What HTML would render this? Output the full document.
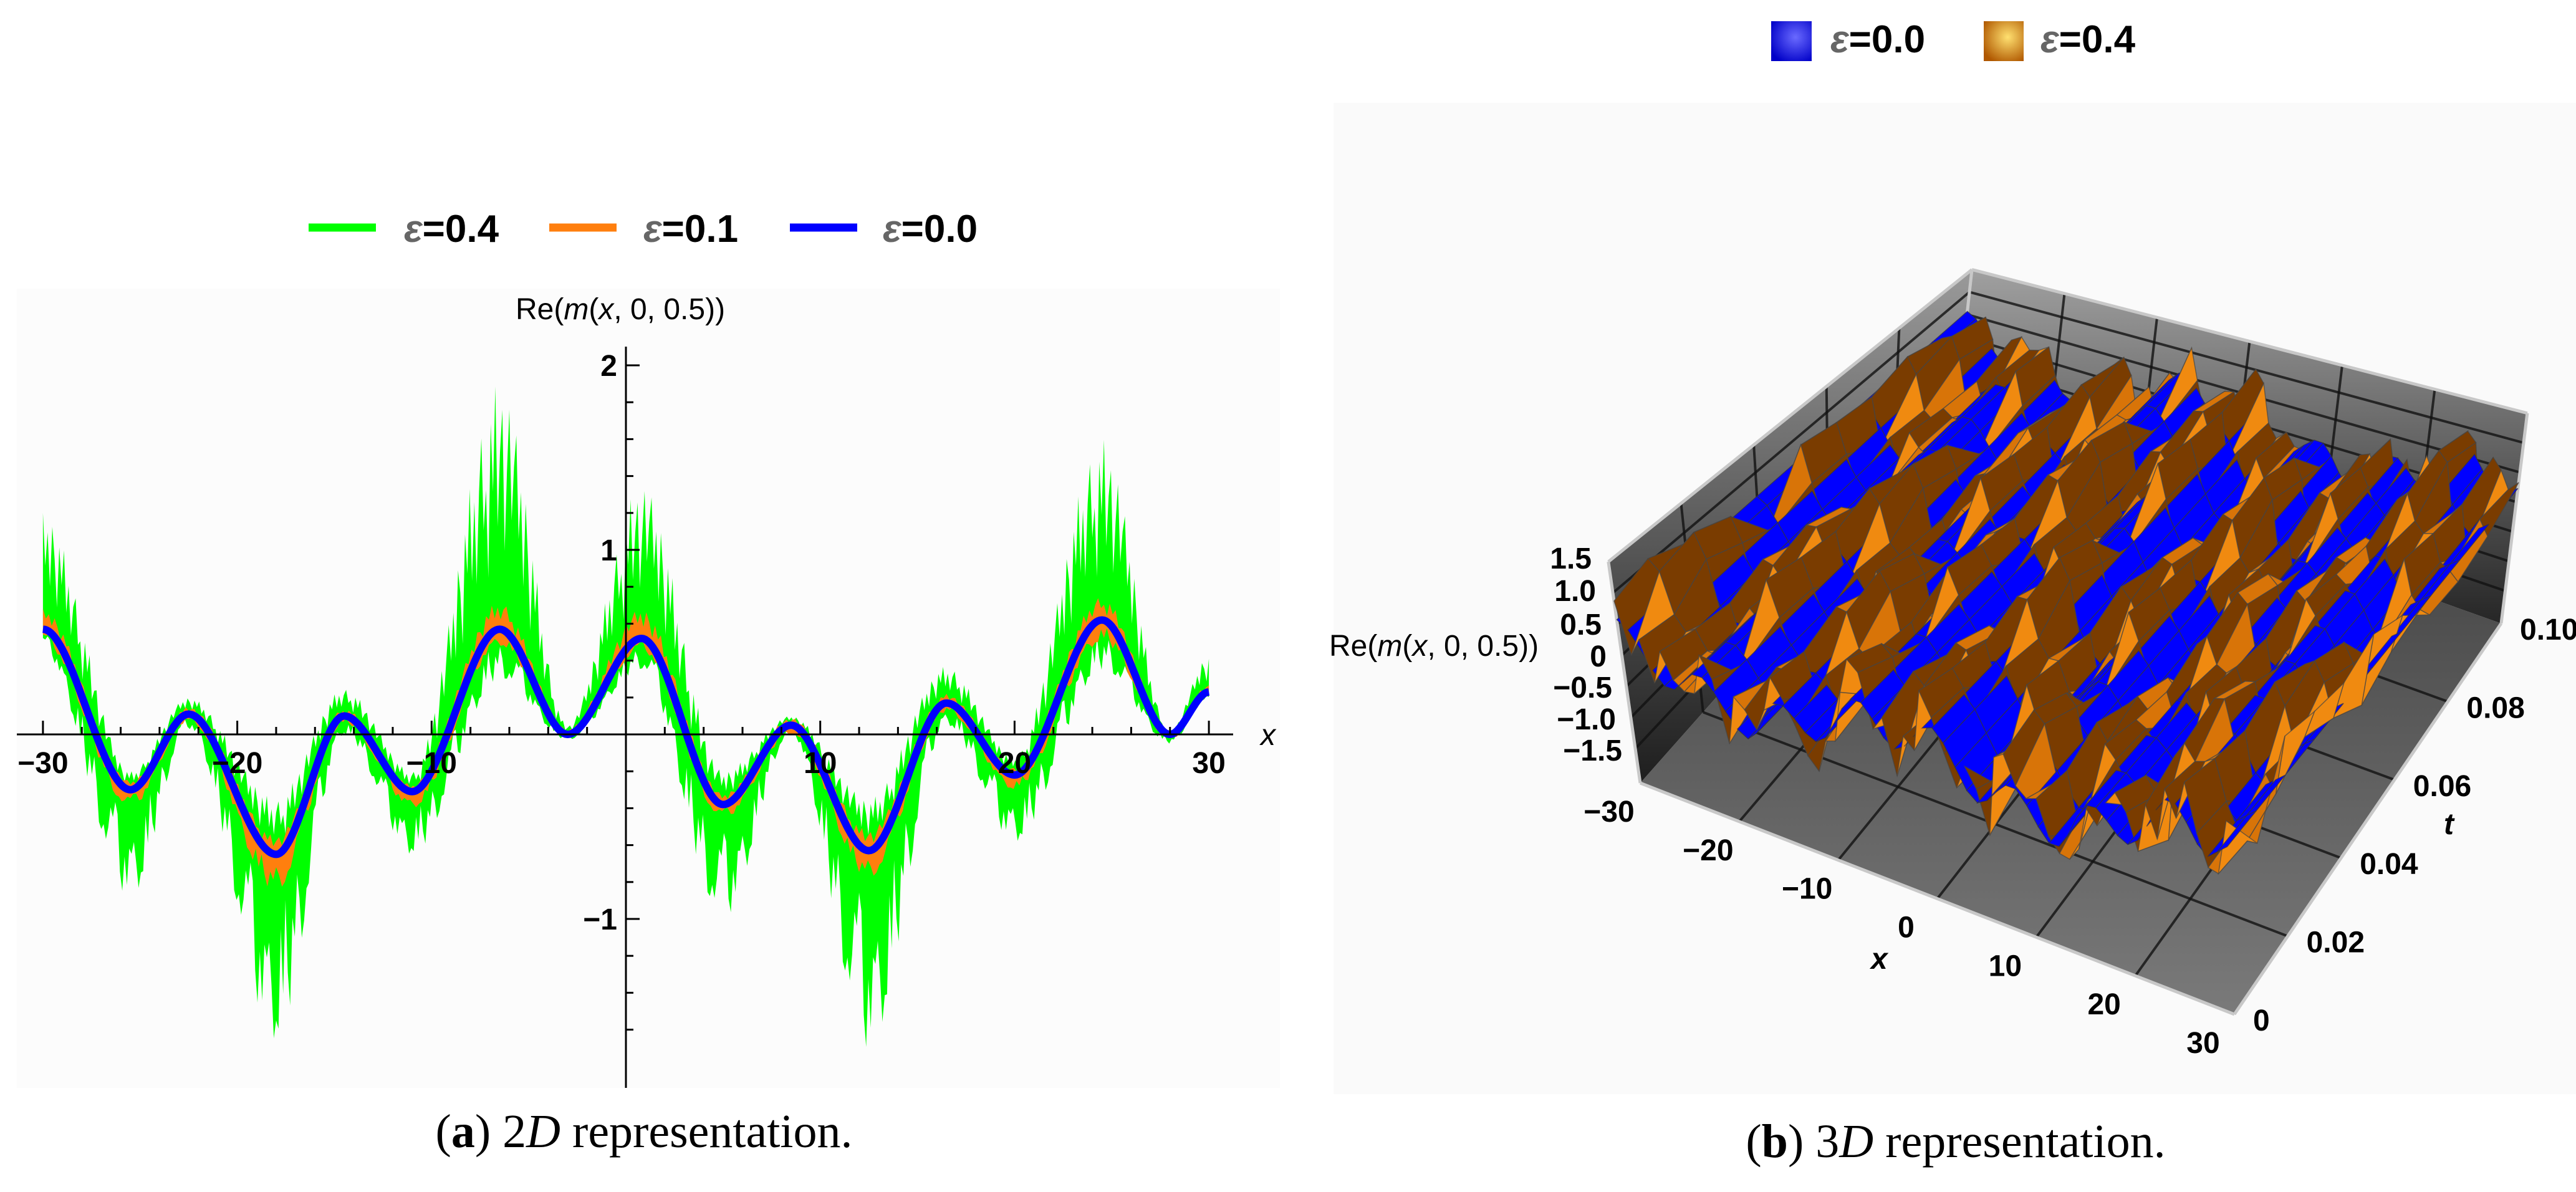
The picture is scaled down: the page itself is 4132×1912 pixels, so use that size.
<!DOCTYPE html>
<html><head><meta charset="utf-8">
<style>
html,body{margin:0;padding:0;background:#fff;}
svg{display:block;}
.tk{font-family:"Liberation Sans",sans-serif;font-weight:bold;font-size:48px;fill:#000;}
.lg{font-family:"Liberation Sans",sans-serif;font-weight:bold;font-size:62px;fill:#000;}
.cap{font-family:"Liberation Serif",serif;font-size:76px;fill:#000;}
</style></head>
<body>
<svg id="fig" width="4132" height="1912" viewBox="0 0 4132 1912" xmlns="http://www.w3.org/2000/svg">
<defs>
<linearGradient id="wallL" x1="0" y1="0" x2="0" y2="1"><stop offset="0" stop-color="#9a9a9a"/><stop offset="1" stop-color="#1e1e1e"/></linearGradient>
<linearGradient id="wallB" x1="0" y1="0" x2="0" y2="1"><stop offset="0" stop-color="#a0a0a0"/><stop offset="1" stop-color="#262626"/></linearGradient>
<linearGradient id="floorG" x1="0" y1="0" x2="0" y2="1"><stop offset="0" stop-color="#3a3a3a"/><stop offset="1" stop-color="#7a7a7a"/></linearGradient>
<radialGradient id="swB" cx="0.6" cy="0.4" r="0.7"><stop offset="0" stop-color="#6a6aff"/><stop offset="1" stop-color="#0000c8"/></radialGradient>
<radialGradient id="swO" cx="0.6" cy="0.4" r="0.7"><stop offset="0" stop-color="#ffe070"/><stop offset="1" stop-color="#b05800"/></radialGradient>
</defs>

<g id="left">
<rect x="27" y="463" width="2026" height="1282" fill="#fcfcfc"/>
<g>
 <g><line x1="495" y1="365" x2="603" y2="365" stroke="#00ff00" stroke-width="13"/><text class="lg" x="648" y="388"><tspan font-style="italic" fill="#666">ε</tspan>=0.4</text></g>
 <g><line x1="881" y1="365" x2="989" y2="365" stroke="#ff7f0e" stroke-width="13"/><text class="lg" x="1032" y="388"><tspan font-style="italic" fill="#666">ε</tspan>=0.1</text></g>
 <g><line x1="1267" y1="365" x2="1375" y2="365" stroke="#0000ff" stroke-width="13"/><text class="lg" x="1416" y="388"><tspan font-style="italic" fill="#666">ε</tspan>=0.0</text></g>
</g>
<g id="series2d"></g>
<g id="axes2d"></g>
<text class="tk" x="827" y="512" style="font-weight:normal" font-size="46">Re(<tspan font-style="italic">m</tspan>(<tspan font-style="italic">x</tspan>, 0, 0.5))</text>
<text class="tk" x="2022" y="1195" font-style="italic" style="font-weight:normal">x</text>
<text class="cap" x="1033" y="1840" text-anchor="middle">(<tspan font-weight="bold">a</tspan>) 2<tspan font-style="italic">D</tspan> representation.</text>
</g>

<g id="right">
<rect x="2139" y="165" width="1993" height="1590" fill="#fafafa"/>
<g>
 <g><rect x="2841" y="34" width="65" height="64" fill="url(#swB)"/><text class="lg" x="2936" y="84"><tspan font-style="italic" fill="#666">ε</tspan>=0.0</text></g>
 <g><rect x="3182" y="34" width="64" height="64" fill="url(#swO)"/><text class="lg" x="3273" y="84"><tspan font-style="italic" fill="#666">ε</tspan>=0.4</text></g>
</g>
<g id="box3d"></g>
<g id="surf3d"></g>
<g id="lab3d"></g>
<text class="tk" x="2132" y="1052" style="font-weight:normal" font-size="46">Re(<tspan font-style="italic">m</tspan>(<tspan font-style="italic">x</tspan>, 0, 0.5))</text>
<text class="tk" x="3001" y="1554" font-style="italic">x</text>
<text class="tk" x="3920" y="1338" font-style="italic">t</text>
<text class="cap" x="3137" y="1856" text-anchor="middle">(<tspan font-weight="bold">b</tspan>) 3<tspan font-style="italic">D</tspan> representation.</text>
</g>
</svg>
<script>
const extX      = [-30,-25.5,-22.5,-18,-14.5,-11,-6.5,-3,0.8,5,8.5,12.5,16.5,20,24.5,28,30];
const blueY     = [0.57,-0.30,0.11,-0.65,0.10,-0.31,0.57,0.0,0.52,-0.38,0.05,-0.63,0.17,-0.22,0.62,0.0,0.23];
const orangeUp  = [0.68,-0.25,0.15,-0.55,0.14,-0.27,0.72,0.03,0.68,-0.32,0.09,-0.52,0.22,-0.18,0.75,0.02,0.27];
const orangeLow = [0.50,-0.40,0.07,-0.85,0.06,-0.40,0.48,-0.02,0.45,-0.46,0.00,-0.78,0.12,-0.30,0.50,-0.03,0.19];
const greenUp   = [1.20,-0.20,0.20,-0.35,0.25,-0.20,1.90,0.05,1.35,-0.20,0.10,-0.35,0.37,-0.12,1.60,0.02,0.43];
const greenLow  = [0.45,-0.88,0.03,-1.65,0.00,-0.65,0.30,-0.03,0.35,-1.00,0.00,-1.70,0.05,-0.58,0.35,-0.05,0.20];
const xTicks = [-30,-20,-10,10,20,30];
const yTicks = [-1,1,2];
const xTickLabels = ["\u221230","\u221220","\u221210","10","20","30"];
const yTickLabels = ["\u22121","1","2"];
const texture = [1,0.55,0.85,0.4,0.95,0.7,0.3,0.9,0.6,1,0.45,0.8,0.35,0.75,0.95,0.5,0.65,0.25,0.88,0.58,1,0.42,0.72,0.9,0.33,0.68,0.97,0.52,0.8];
const zTicks = ["1.5","1.0","0.5","0","\u22120.5","\u22121.0","\u22121.5"];
const x3Ticks = ["\u221230","\u221220","\u221210","0","10","20","30"];
const tTicks = ["0","0.02","0.04","0.06","0.08","0.10"];
const noise3d = [0.6,-0.5,0.2,1.0,-0.3,-0.8,0.5,-0.2,0.9,-0.6,0.3,1.2,-0.7,0.1,0.7,-0.4,0.9,-0.9,0.2,0.4,1.1,-0.3,-0.1,0.8,-1.0,0.3];

const NS='http://www.w3.org/2000/svg';
function mk(tag,attrs,parent){const e=document.createElementNS(NS,tag);for(const k in attrs)e.setAttribute(k,attrs[k]);parent.appendChild(e);return e;}
function interp(arr,x){
  let k=0;while(k<extX.length-2&&x>extX[k+1])k++;
  const s=Math.min(1,Math.max(0,(x-extX[k])/(extX[k+1]-extX[k])));const h=3*s*s-2*s*s*s;
  return arr[k]+(arr[k+1]-arr[k])*h;
}
const X=x=>1004+x*31.17, Y=v=>1178-v*296;

const s2=document.getElementById('series2d');
function band(up,low,step,tex,color,name){
  let top=[],bot=[],i=0;
  for(let x=-30;x<=30.0001;x+=step,i++){
    const b=interp(blueY,x);const j=tex?texture[i%texture.length]:1;const j2=tex?texture[(i*7+3)%texture.length]:1;
    top.push(X(x).toFixed(1)+','+Y(b+(interp(up,x)-b)*j).toFixed(1));
    bot.push(X(x).toFixed(1)+','+Y(b+(interp(low,x)-b)*j2).toFixed(1));
  }
  const p=mk('polygon',{points:top.concat(bot.reverse()).join(' '),fill:color},s2);
  
  
}
band(greenUp,greenLow,0.12,true,'#00ff00','series-eps-0.4');
band(orangeUp,orangeLow,0.15,true,'#ff7f0e','series-eps-0.1');
{let pts=[];for(let x=-30;x<=30.0001;x+=0.1)pts.push(X(x).toFixed(1)+','+Y(interp(blueY,x)).toFixed(1));
 const l=mk('polyline',{points:pts.join(' '),fill:'none',stroke:'#0000ff','stroke-width':12,'stroke-linejoin':'round'},s2);
 
 }

const a2=document.getElementById('axes2d');
mk('line',{x1:27,y1:Y(0),x2:1978,y2:Y(0),stroke:'#000','stroke-width':3},a2);
mk('line',{x1:X(0),y1:556,x2:X(0),y2:1745,stroke:'#000','stroke-width':3},a2);
for(let x=-30;x<=30;x+=2){ if(x===0)continue; const big=x%10===0;
  mk('line',{x1:X(x),y1:Y(0),x2:X(x),y2:Y(0)-(big?22:12),stroke:'#000','stroke-width':3},a2);}
for(let v=-1.6;v<=2.01;v+=0.2){ if(Math.abs(v)<0.01)continue; const big=Math.abs(v-Math.round(v))<0.01;
  mk('line',{x1:X(0),y1:Y(v),x2:X(0)+(big?22:12),y2:Y(v),stroke:'#000','stroke-width':3},a2);}
xTicks.forEach((t,i)=>{const e=mk('text',{class:'tk',x:X(t),y:1240,'text-anchor':'middle'},a2);e.textContent=xTickLabels[i];
 
 });
yTicks.forEach((t,i)=>{const e=mk('text',{class:'tk',x:X(0)-14,y:Y(t)+17,'text-anchor':'end'},a2);e.textContent=yTickLabels[i];
 
 });

const FL=[2631,1256],FR=[3584,1627],BL=[3135,688],BR=[4012,1000];
const HFL=100,HFR=118,HBL=72,HBR=95, ZMIN=-2.05, ZMAX=1.5;
const DFL=-14.4,DFR=-5,DBL=7.9,DBR=11.8;
function P(x,t,z){const u=(x+30)/60,w=t/0.1;
  const a=(1-u)*(1-w),b=u*(1-w),c=(1-u)*w,d=u*w;
  const fx=a*FL[0]+b*FR[0]+c*BL[0]+d*BR[0];
  const fy=a*FL[1]+b*FR[1]+c*BL[1]+d*BR[1];
  const h=a*HFL+b*HFR+c*HBL+d*HBR;
  const dx=a*DFL+b*DFR+c*DBL+d*DBR;
  return [fx+(z-ZMIN)*dx,fy-(z-ZMIN)*h];}
const bx=document.getElementById('box3d');
const pp=a=>a.map(p=>p[0].toFixed(1)+','+p[1].toFixed(1)).join(' ');
mk('polygon',{points:pp([P(-30,0,ZMIN),P(30,0,ZMIN),P(30,0.1,ZMIN),P(-30,0.1,ZMIN)]),fill:'url(#floorG)'},bx);
mk('polygon',{points:pp([P(-30,0,ZMIN),P(-30,0.1,ZMIN),P(-30,0.1,ZMAX),P(-30,0,ZMAX)]),fill:'url(#wallL)'},bx);
mk('polygon',{points:pp([P(-30,0.1,ZMIN),P(30,0.1,ZMIN),P(30,0.1,ZMAX),P(-30,0.1,ZMAX)]),fill:'url(#wallB)'},bx);
const gl=(a,b)=>mk('line',{x1:a[0],y1:a[1],x2:b[0],y2:b[1],stroke:'#111','stroke-width':4,'stroke-opacity':0.8},bx);
for(let x=-20;x<=20;x+=10){gl(P(x,0,ZMIN),P(x,0.1,ZMIN));gl(P(x,0.1,ZMIN),P(x,0.1,ZMAX));}
for(let k=1;k<5;k++){const t=k*0.02;gl(P(-30,t,ZMIN),P(30,t,ZMIN));gl(P(-30,t,ZMIN),P(-30,t,ZMAX));}
for(let z=-1.5;z<=1.01;z+=0.5){gl(P(-30,0,z),P(-30,0.1,z));gl(P(-30,0.1,z),P(30,0.1,z));}
const el=(a,b)=>mk('line',{x1:a[0],y1:a[1],x2:b[0],y2:b[1],stroke:'#c8c8c8','stroke-width':5},bx);
el(P(-30,0,ZMIN),P(30,0,ZMIN));el(P(30,0,ZMIN),P(30,0.1,ZMIN));el(P(-30,0,ZMIN),P(-30,0,ZMAX));
el(P(-30,0.1,ZMIN),P(-30,0.1,ZMAX));el(P(30,0.1,ZMIN),P(30,0.1,ZMAX));el(P(-30,0,ZMAX),P(-30,0.1,ZMAX));el(P(-30,0.1,ZMAX),P(30,0.1,ZMAX));

const sf=document.getElementById('surf3d');
const NX=60,NT=10;
function zb(i){return interp(blueY,-30+i);}
function zo(i,j){return zb(i)+0.5*noise3d[(i*5+j*3)%noise3d.length];}
let cells=[];
for(let j=NT-1;j>=0;j--)for(let i=0;i<NX;i++){
  const x0=-30+i,x1=x0+1,t0=j*0.01,t1=t0+0.01;
  const qb=[P(x0,t0,zb(i)),P(x1,t0,zb(i+1)),P(x1,t1,zb(i+1)),P(x0,t1,zb(i))];
  const qo=[P(x0,t0,zo(i,j)),P(x1,t0,zo(i+1,j)),P(x1,t1,zo(i+1,j+1)),P(x0,t1,zo(i,j+1))];
  const depth=P(x0+0.5,t0+0.005,ZMIN)[1];
  const mb=(zb(i)+zb(i+1))/2, mo=(zo(i,j)+zo(i+1,j)+zo(i+1,j+1)+zo(i,j+1))/4;
  const slope=(zo(i+1,j)-zo(i,j));
  cells.push({depth,qb,qo,mb,mo,slope});
}
cells.sort((a,b)=>a.depth-b.depth);
cells.forEach(c=>{
  const ocol=c.slope>0.15?'#f08a10':(c.slope<-0.15?'#7a3c00':'#d87408');
  const drawB=()=>{const e=mk('polygon',{points:pp(c.qb),fill:'#0000ff',stroke:'#333','stroke-width':1.5,'stroke-opacity':0.6},sf);
    
    };
  const drawO=()=>{const e=mk('polygon',{points:pp(c.qo),fill:ocol,stroke:'#444','stroke-width':1.5,'stroke-opacity':0.7},sf);
    
    };
  if(c.mb<c.mo){drawB();drawO();}else{drawO();drawB();}
});

const lb=document.getElementById('lab3d');
const zPos=[[2553,912],[2560,964],[2569,1018],[2577,1069],[2586,1119],[2592,1170],[2602,1220]];
zTicks.forEach((s,i)=>{const e=mk('text',{class:'tk',x:zPos[i][0],y:zPos[i][1],'text-anchor':'end'},lb);e.textContent=s;
 
 });
x3Ticks.forEach((s,i)=>{const x=-30+i*10;const p=P(x,0,ZMIN);const e=mk('text',{class:'tk',x:p[0]-50,y:p[1]+62,'text-anchor':'middle'},lb);e.textContent=s;
 
 });
tTicks.forEach((s,i)=>{const p=P(30,i*0.02,ZMIN);const e=mk('text',{class:'tk',x:p[0]+30,y:p[1]+26,'text-anchor':'start'},lb);e.textContent=s;
 
 });
</script>
</body></html>
